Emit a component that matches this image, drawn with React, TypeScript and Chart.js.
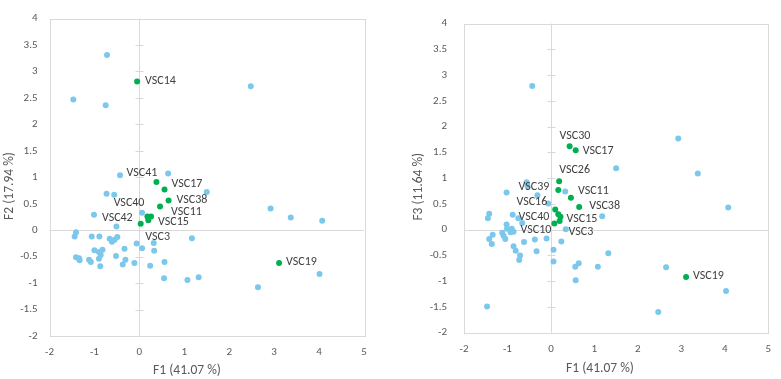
import { useEffect, useRef } from "react";
import { Chart, registerables } from "chart.js";

Chart.register(...registerables);

const FONT = "Carlito, Calibri, Lato, 'Open Sans', sans-serif";
const BLUE = "#7CC8EC";
const GREEN = "#00B050";
const AXIS_GREY = "#D9D9D9";
const TICK_TEXT = "#595959";
const LABEL_TEXT = "#404040";

// Axis ranges shared by both planes
const xTicksMin = -2;
const xTicksMax = 5;
const yTicksMin = -2;
const yTicksMax = 4;

// ---- F1 / F2 plane ----
const f12OtherF1 = [
  -0.72, -1.47, -0.75, 2.48, -0.43, 0.64, 1.5, -0.73, -0.56, 0.06, -1.01, -0.51, 2.92, 3.37, 4.07,
  1.17, 0.32, -0.06, 0.06, 0.33, -0.33, -1.41, -1.44, -1.06, -0.89, -0.66, -0.61, -0.55, -0.49,
  -1.0, -0.9, -0.82, -0.86, -0.52, -1.41, -1.34, -1.33, -1.12, -1.08, -0.9, -0.87, -0.31, -0.37,
  -0.11, 0.24, 0.56, 0.55, 1.07, 1.32, 4.01, 2.64,
];
const f12OtherF2 = [
  3.31, 2.47, 2.36, 2.72, 1.04, 1.07, 0.72, 0.69, 0.67, 0.33, 0.29, 0.07, 0.41, 0.24, 0.18,
  -0.15, -0.24, -0.25, -0.34, -0.39, -0.35, -0.04, -0.12, -0.12, -0.12, -0.16, -0.22, -0.18, -0.13,
  -0.38, -0.41, -0.37, -0.47, -0.49, -0.51, -0.53, -0.57, -0.56, -0.6, -0.54, -0.68, -0.56, -0.65,
  -0.62, -0.67, -0.6, -0.91, -0.94, -0.89, -0.83, -1.08,
];
const f12Names = ["VSC14", "VSC41", "VSC17", "VSC38", "VSC11", "VSC40", "VSC15", "VSC42", "VSC3", "VSC19"];
const f12NamedF1 = [-0.05, 0.38, 0.56, 0.65, 0.46, 0.18, 0.26, 0.03, 0.2, 3.11];
const f12NamedF2 = [2.81, 0.91, 0.77, 0.56, 0.45, 0.26, 0.26, 0.12, 0.19, -0.62];

// ---- F1 / F3 plane ----
const f13OtherF1 = [
  -0.43, 2.93, 1.5, 3.38, -0.56, -0.54, 0.33, -1.02, -0.31, 4.08, 1.18, -0.06, -1.42, -1.45, -0.88,
  -0.75, -0.66, 0.34, -1.02, -1.01, -0.9, -0.86, -0.93, -1.12, -1.09, -1.05, -1.34, -1.42, -1.36,
  -0.62, -0.37, -0.1, 0.24, -0.86, -0.81, -0.33, 0.06, -0.71, -0.73, 0.06, 1.32, 0.64, 0.56, 1.08,
  0.57, 2.65, 4.03, -1.47, 2.47,
];
const f13OtherF3 = [
  2.79, 1.77, 1.19, 1.09, 0.92, 0.85, 0.74, 0.72, 0.67, 0.43, 0.26, 0.51, 0.31, 0.22, 0.29,
  0.22, 0.13, 0.01, 0.1, 0.02, 0.02, -0.04, -0.05, -0.06, -0.12, -0.18, -0.1, -0.18, -0.28,
  -0.24, -0.19, -0.17, -0.23, -0.32, -0.41, -0.42, -0.39, -0.5, -0.59, -0.62, -0.46, -0.65, -0.72, -0.72,
  -0.98, -0.73, -1.19, -1.49, -1.6,
];
const f13Names = ["VSC30", "VSC17", "VSC26", "VSC39", "VSC11", "VSC38", "VSC16", "VSC40", "VSC15", "VSC3", "VSC10", "VSC19"];
const f13NamedF1 = [0.43, 0.57, 0.19, 0.17, 0.46, 0.65, 0.1, 0.17, 0.22, 0.2, 0.08, 3.11];
const f13NamedF3 = [1.62, 1.54, 0.94, 0.77, 0.62, 0.44, 0.39, 0.3, 0.25, 0.17, 0.12, -0.92];

type Align = "left" | "right";
type Placement = Record<string, [number, number, Align]>;

// Where each data label sits relative to its marker (pixels)
const f12Placement: Placement = {
  VSC14: [8, -1, "left"],
  VSC41: [1, -9, "right"],
  VSC17: [7, -5, "left"],
  VSC38: [8, -1, "left"],
  VSC11: [11, 6, "left"],
  VSC40: [-3, -13, "right"],
  VSC15: [7, 6, "left"],
  VSC42: [-8, -6, "right"],
  VSC3: [-3, 17, "left"],
  VSC19: [7, -1, "left"],
};
const f13Placement: Placement = {
  VSC30: [-10, -10, "left"],
  VSC17: [7, 1, "left"],
  VSC26: [0, -11, "left"],
  VSC39: [-9, -3, "right"],
  VSC11: [7, -7, "left"],
  VSC38: [10, -1, "left"],
  VSC16: [-8, -8, "right"],
  VSC40: [-9, 3, "right"],
  VSC15: [6, 2, "left"],
  VSC3: [9, 11, "left"],
  VSC10: [-3, 7, "right"],
  VSC19: [7, -1, "left"],
};

interface PanelProps {
  left: number;
  width: number;
  yAxisWidth: number;
  xAxisHeight: number;
  padTop: number;
  padRight: number;
  yTickPad: number;
  xTitle: string;
  yTitle: string;
  xTitlePos: [number, number];
  yTitlePos: [number, number];
  otherX: number[];
  otherY: number[];
  names: string[];
  namedX: number[];
  namedY: number[];
  placement: Placement;
}

function ScatterPanel(p: PanelProps) {
  const ref = useRef<HTMLCanvasElement | null>(null);

  useEffect(() => {
    const canvas = ref.current;
    if (!canvas) return;

    const frame = {
      id: "frame",
      beforeDatasetsDraw(chart: any) {
        const { ctx, chartArea: a, scales } = chart;
        const x0 = Math.round(scales.x.getPixelForValue(0)) + 0.5;
        const y0 = Math.round(scales.y.getPixelForValue(0)) + 0.5;
        ctx.save();
        ctx.strokeStyle = AXIS_GREY;
        ctx.lineWidth = 1;
        ctx.strokeRect(Math.round(a.left) + 0.5, Math.round(a.top) + 0.5,
          Math.round(a.right - a.left), Math.round(a.bottom - a.top));
        ctx.beginPath();
        ctx.moveTo(x0, a.top);
        ctx.lineTo(x0, a.bottom);
        ctx.moveTo(a.left, y0);
        ctx.lineTo(a.right, y0);
        for (let v = yTicksMin; v <= yTicksMax; v += 0.5) {
          const py = Math.round(scales.y.getPixelForValue(v)) + 0.5;
          ctx.moveTo(x0 - 4, py);
          ctx.lineTo(x0 + 4, py);
        }
        ctx.stroke();
        ctx.restore();
      },
      afterDatasetsDraw(chart: any) {
        const { ctx, scales } = chart;
        ctx.save();
        ctx.fillStyle = LABEL_TEXT;
        ctx.font = `12px ${FONT}`;
        ctx.textBaseline = "middle";
        p.names.forEach((name, i) => {
          const [dx, dy, align] = p.placement[name] || [7, 0, "left"];
          const px = scales.x.getPixelForValue(p.namedX[i]);
          const py = scales.y.getPixelForValue(p.namedY[i]);
          ctx.textAlign = align;
          ctx.fillText(name, px + dx, py + dy);
        });
        ctx.fillStyle = TICK_TEXT;
        ctx.font = `13.5px ${FONT}`;
        ctx.textAlign = "center";
        ctx.fillText(p.xTitle, p.xTitlePos[0], p.xTitlePos[1]);
        ctx.translate(p.yTitlePos[0], p.yTitlePos[1]);
        ctx.rotate(-Math.PI / 2);
        ctx.fillText(p.yTitle, 0, 0);
        ctx.restore();
      },
    };

    const tickFont = { family: FONT, size: 11 };
    const chart = new Chart(canvas, {
      type: "scatter",
      data: {
        datasets: [
          {
            data: p.otherX.map((x, i) => ({ x, y: p.otherY[i] })),
            backgroundColor: BLUE,
            borderColor: BLUE,
            pointRadius: 3,
            borderWidth: 0,
          },
          {
            data: p.namedX.map((x, i) => ({ x, y: p.namedY[i] })),
            backgroundColor: GREEN,
            borderColor: GREEN,
            pointRadius: 3,
            borderWidth: 0,
          },
        ],
      },
      options: {
        responsive: false,
        animation: false,
        layout: { padding: { top: p.padTop, right: p.padRight, left: 0, bottom: 0 } },
        plugins: { legend: { display: false }, tooltip: { enabled: false } },
        scales: {
          x: {
            type: "linear",
            min: xTicksMin,
            max: xTicksMax,
            grid: { display: false, drawTicks: false },
            border: { display: false },
            ticks: { stepSize: 1, padding: 10, color: TICK_TEXT, font: tickFont, callback: (v: any) => String(Number(v)) },
            afterFit: (s: any) => { s.height = p.xAxisHeight; },
          },
          y: {
            type: "linear",
            min: yTicksMin,
            max: yTicksMax,
            grid: { display: false, drawTicks: false },
            border: { display: false },
            ticks: { stepSize: 0.5, padding: p.yTickPad, color: TICK_TEXT, font: tickFont, callback: (v: any) => String(Number(v)) },
            afterFit: (s: any) => { s.width = p.yAxisWidth; },
          },
        },
      },
      plugins: [frame],
    } as any);

    return () => chart.destroy();
  }, []);

  return (
    <canvas
      ref={ref}
      width={p.width}
      height={379}
      style={{ position: "absolute", left: p.left, top: 0, width: p.width, height: 379 }}
    />
  );
}

export default function App() {
  return (
    <div style={{ position: "fixed", left: 0, top: 0, width: 781, height: 379, background: "#fff" }}>
      <ScatterPanel
        left={0}
        width={390}
        yAxisWidth={49.5}
        xAxisHeight={43}
        padTop={7.5}
        padRight={26}
        yTickPad={12}
        xTitle="F1 (41.07 %)"
        yTitle="F2 (17.94 %)"
        xTitlePos={[187, 370.5]}
        yTitlePos={[9.5, 186]}
        otherX={f12OtherF1}
        otherY={f12OtherF2}
        names={f12Names}
        namedX={f12NamedF1}
        namedY={f12NamedF2}
        placement={f12Placement}
      />
      <ScatterPanel
        left={390}
        width={391}
        yAxisWidth={74}
        xAxisHeight={46.3}
        padTop={5.5}
        padRight={5}
        yTickPad={17}
        xTitle="F1 (41.07 %)"
        yTitle="F3 (11.64 %)"
        xTitlePos={[210, 368.3]}
        yTitlePos={[29, 186.7]}
        otherX={f13OtherF1}
        otherY={f13OtherF3}
        names={f13Names}
        namedX={f13NamedF1}
        namedY={f13NamedF3}
        placement={f13Placement}
      />
    </div>
  );
}
